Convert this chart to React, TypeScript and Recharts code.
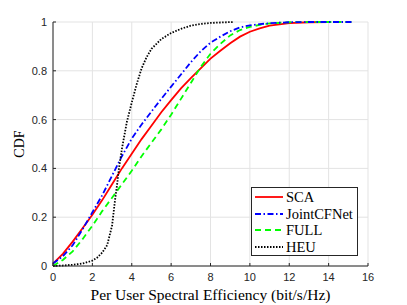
import React from 'react';
import { LineChart, Line, XAxis, YAxis, CartesianGrid, Legend } from 'recharts';

const xTicks = [0, 2, 4, 6, 8, 10, 12, 14, 16];
const yTicks = [0, 0.2, 0.4, 0.6, 0.8, 1];

// CDF curves (x = bit/s/Hz, y = probability)
const scaX = [0, 0.5, 1, 1.5, 2, 2.5, 3, 3.5, 4, 4.5, 5, 5.5, 6, 6.5, 7, 7.5, 8, 8.5, 9, 9.5, 10, 10.5, 11, 11.5, 12, 13, 14];
const scaY = [0.01, 0.05, 0.1, 0.155, 0.21, 0.27, 0.335, 0.4, 0.46, 0.52, 0.575, 0.63, 0.68, 0.728, 0.77, 0.81, 0.85, 0.882, 0.913, 0.94, 0.96, 0.974, 0.985, 0.99, 0.995, 0.999, 1];

const jointX = [0, 0.5, 1, 1.5, 2, 2.5, 3, 3.5, 4, 4.5, 5, 5.5, 6, 6.5, 7, 7.5, 8, 8.5, 9, 9.5, 10, 10.5, 11, 12, 13, 15.2];
const jointY = [0.01, 0.04, 0.085, 0.15, 0.22, 0.29, 0.37, 0.45, 0.522, 0.58, 0.633, 0.685, 0.735, 0.785, 0.835, 0.88, 0.915, 0.94, 0.962, 0.978, 0.986, 0.991, 0.995, 0.999, 1, 1];

const fullX = [0, 0.5, 1, 1.5, 2, 2.5, 3, 3.5, 4, 4.5, 5, 5.5, 6, 6.5, 7, 7.5, 8, 8.5, 9, 9.5, 10, 10.5, 11, 12, 13, 15.2];
const fullY = [0, 0.025, 0.06, 0.11, 0.165, 0.225, 0.28, 0.335, 0.39, 0.45, 0.505, 0.56, 0.62, 0.685, 0.75, 0.815, 0.87, 0.91, 0.945, 0.967, 0.98, 0.988, 0.994, 0.999, 1, 1];

const heuX = [0, 0.5, 1, 1.5, 2, 2.25, 2.5, 2.75, 3, 3.15, 3.25, 3.35, 3.5, 3.75, 4, 4.25, 4.5, 4.75, 5, 5.5, 6, 6.5, 7, 7.5, 8, 8.5, 9.2];
const heuY = [0, 0.002, 0.005, 0.01, 0.022, 0.035, 0.055, 0.085, 0.165, 0.27, 0.33, 0.4, 0.48, 0.59, 0.67, 0.745, 0.81, 0.855, 0.89, 0.93, 0.955, 0.972, 0.985, 0.992, 0.996, 0.998, 1];

const toPoints = (xs: number[], ys: number[]) => xs.map((x, i) => ({ x, y: ys[i] }));

const series = [
  { name: 'SCA', data: toPoints(scaX, scaY), color: '#ff0000', dash: undefined as string | undefined },
  { name: 'JointCFNet', data: toPoints(jointX, jointY), color: '#0000ff', dash: '6 2.5 1.5 2.5' },
  { name: 'FULL', data: toPoints(fullX, fullY), color: '#00ff00', dash: '6 4' },
  { name: 'HEU', data: toPoints(heuX, heuY), color: '#000000', dash: '1.5 1.5' },
];

// MATLAB stacking: red, green, blue, then black dots on top
const drawOrder = ['SCA', 'FULL', 'JointCFNet', 'HEU'];

const axisColor = '#262626';
const tickStyle = { fontSize: 11, fill: axisColor, fontFamily: '"Liberation Sans", Arial, sans-serif' };
const serif = '"Liberation Serif", "Times New Roman", serif';

const CdfLegend = () => (
  <div
    style={{
      boxSizing: 'border-box',
      width: 107,
      height: 69,
      border: `1px solid ${axisColor}`,
      background: '#fff',
      padding: '1px 0 0 3px',
      fontFamily: serif,
      fontSize: 14.5,
      lineHeight: '16.5px',
      color: '#000',
    }}
  >
    {series.map((s) => (
      <div key={s.name} style={{ display: 'flex', alignItems: 'center', height: 16.5 }}>
        <svg width={28} height={10} style={{ marginRight: 3 }}>
          <line x1={0} y1={5} x2={28} y2={5} stroke={s.color} strokeWidth={1.8} strokeDasharray={s.dash} />
        </svg>
        <span>{s.name}</span>
      </div>
    ))}
  </div>
);

export default function App() {
  return (
    <div style={{ position: 'absolute', left: 0, top: 0, background: '#fff' }}>
      <LineChart width={407} height={305} margin={{ top: 22, right: 39, bottom: 0, left: 0 }}>
        <CartesianGrid xAxisId="b" yAxisId="l" stroke="#e3e3e3" strokeWidth={1} />
        <XAxis
          xAxisId="b"
          dataKey="x"
          type="number"
          domain={[0, 16]}
          ticks={xTicks}
          height={39}
          stroke={axisColor}
          tickSize={-3}
          tickMargin={10}
          tick={tickStyle}
          label={{ value: 'Per User Spectral Efficiency (bit/s/Hz)', position: 'insideBottom', offset: 5, style: { fontFamily: serif, fontSize: 15.5, fill: '#000' } }}
        />
        <XAxis xAxisId="t" dataKey="x" type="number" orientation="top" domain={[0, 16]} ticks={xTicks} height={0} stroke={axisColor} tickSize={-3} tick={false} />
        <YAxis
          yAxisId="l"
          type="number"
          domain={[0, 1]}
          ticks={yTicks}
          width={53}
          stroke={axisColor}
          tickSize={-3}
          tickMargin={9}
          tick={tickStyle}
          label={{ value: 'CDF', angle: -90, position: 'insideLeft', offset: 19, style: { textAnchor: 'middle', fontFamily: serif, fontSize: 14, fill: '#000' } }}
        />
        <YAxis yAxisId="r" type="number" orientation="right" domain={[0, 1]} ticks={yTicks} width={0} stroke={axisColor} tickSize={-3} tick={false} />
        {drawOrder.map((n) => {
          const s = series.find((d) => d.name === n)!;
          return (
            <Line
              key={s.name}
              xAxisId="b"
              yAxisId="l"
              data={s.data}
              dataKey="y"
              name={s.name}
              type="linear"
              stroke={s.color}
              strokeWidth={1.8}
              strokeDasharray={s.dash}
              dot={false}
              activeDot={false}
              isAnimationActive={false}
            />
          );
        })}
        <Legend
          layout="vertical"
          align="center"
          verticalAlign="middle"
          content={<CdfLegend />}
          wrapperStyle={{ left: 251, top: 187, width: 107, height: 69 }}
        />
      </LineChart>
    </div>
  );
}
